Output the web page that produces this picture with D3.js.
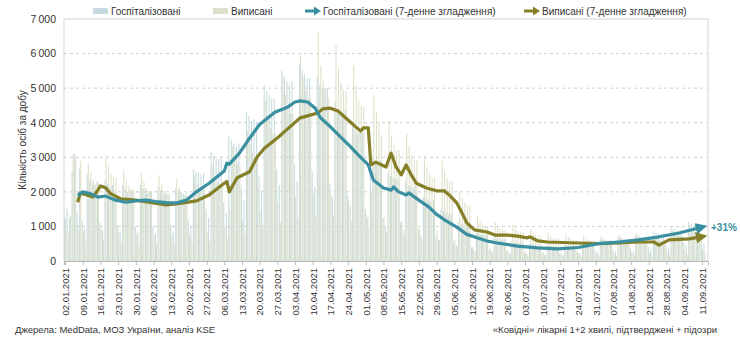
<!DOCTYPE html>
<html>
<head>
<meta charset="utf-8">
<script src="https://cdn.jsdelivr.net/npm/d3@7"></script>
<style>
  body { margin: 0; background: #fff; }
  text { font-family: "Liberation Sans", Arial, sans-serif; fill: #333; }
</style>
</head>
<body>
<svg id="chart"></svg>
<script>
// first day of the daily series
const startDate = new Date(2021, 0, 2);

// daily hospitalised (one row per week, Sat..Fri)
const hospDaily = [
  1300, 1500, 1250, 2600, 3100, 1400, 2700,
  1150, 950, 2500, 2350, 2250, 2200, 2300,
  1100, 900, 2350, 2250, 2150, 2200, 2000,
  1050, 850, 2200, 2100, 2000, 2050, 2000,
  1000, 850, 2200, 2100, 2050, 1950, 2000,
  1000, 800, 2150, 2050, 1950, 1950, 1900,
  1050, 850, 2100, 2050, 2000, 1950, 1950,
  1200, 1000, 2650, 2600, 2550, 2500, 2550,
  1500, 1250, 3150, 3050, 2950, 2950, 3000,
  1700, 1400, 3600, 3500, 3400, 3300, 3400,
  2100, 1750, 4300, 4200, 4050, 4100, 4000,
  2450, 2050, 5100, 4900, 4800, 4700, 4700,
  2650, 2200, 5500, 5300, 5200, 5100, 5200,
  2800, 2300, 5700, 5500, 5400, 5300, 5300,
  2600, 2150, 5300, 5100, 5000, 4950, 5000,
  2250, 1850, 4600, 4400, 4250, 4200, 4350,
  1900, 1600, 4000, 3800, 3700, 3700, 3700,
  1500, 1250, 3100, 3000, 2900, 2850, 2900,
  1250, 1000, 2550, 2450, 2400, 2350, 2350,
  1100, 900, 2300, 2200, 2150, 2100, 2200,
  900, 750, 1850, 1800, 1750, 1700, 1750,
  720, 600, 1500, 1450, 1400, 1350, 1380,
  540, 450, 1120, 1080, 1040, 1020, 1050,
  400, 330, 820, 790, 760, 750, 770,
  320, 270, 680, 650, 620, 610, 630,
  270, 230, 560, 540, 520, 510, 520,
  230, 200, 490, 470, 450, 440, 450,
  220, 180, 450, 430, 410, 410, 420,
  220, 180, 450, 430, 410, 410, 420,
  250, 210, 520, 500, 490, 480, 490,
  300, 250, 640, 610, 590, 580, 600,
  330, 280, 690, 660, 630, 630, 640,
  360, 300, 750, 720, 690, 680, 700,
  410, 340, 850, 820, 780, 770, 790,
  470, 390, 980, 940, 900, 880, 900,
  540, 450, 1130, 1080, 1040, 1020, 1040,
  590, 500
];

// daily discharged
const dischDaily = [
  1200, 800, 1300, 3100, 3000, 900, 2900,
  880, 590, 2830, 2540, 2340, 2240, 2250,
  950, 630, 3050, 2730, 2520, 2420, 2400,
  810, 540, 2610, 2340, 2160, 2070, 2080,
  790, 530, 2550, 2290, 2110, 2020, 2030,
  770, 510, 2470, 2210, 2040, 1960, 1950,
  740, 490, 2380, 2130, 1970, 1890, 1880,
  770, 510, 2470, 2210, 2040, 1960, 1950,
  860, 570, 2760, 2470, 2280, 2190, 2170,
  990, 660, 1500, 3300, 3000, 2800, 2750,
  1170, 780, 3770, 3380, 3120, 2990, 2990,
  1440, 960, 4640, 4160, 3840, 3680, 3680,
  1670, 1110, 5370, 4810, 4440, 4260, 4240,
  1850, 1230, 5950, 5330, 4920, 4720, 4700,
  1960, 1300, 6600, 5650, 5220, 5000, 4720,
  1940, 1290, 6240, 5590, 5160, 4950, 4930,
  1760, 1170, 5660, 5070, 4680, 4490, 4470,
  1350, 900, 2000, 4800, 4300, 4000, 3650,
  1260, 840, 4060, 3640, 3360, 3220, 3220,
  1150, 770, 3700, 3320, 3060, 2930, 2920,
  950, 630, 3050, 2730, 2520, 2420, 2400,
  900, 600, 2900, 2600, 2400, 2300, 2300,
  630, 420, 2030, 1820, 1680, 1610, 1610,
  400, 260, 1280, 1140, 1060, 1010, 1010,
  350, 230, 1130, 1010, 940, 900, 900,
  320, 220, 1040, 940, 860, 830, 830,
  290, 190, 930, 830, 770, 740, 730,
  250, 170, 810, 730, 670, 640, 650,
  240, 160, 770, 690, 640, 610, 600,
  230, 150, 740, 660, 610, 590, 590,
  230, 150, 740, 660, 610, 590, 590,
  230, 160, 750, 680, 620, 600, 600,
  250, 170, 800, 720, 660, 630, 620,
  230, 150, 720, 650, 600, 580, 570,
  270, 180, 880, 790, 730, 700, 720,
  290, 200, 940, 850, 780, 750, 740,
  320, 210
];

// 7-day smoothed lines: day offset from 02.01.2021 and value
const hospAvgDays = [5, 7, 10, 13, 16, 20, 24, 28, 32, 36, 40, 44, 48, 52, 57, 63, 64, 65, 69, 73, 77, 83, 88, 91, 93, 96, 99, 101, 105, 109, 113, 116, 120, 122, 126, 129, 130, 132, 135, 136, 140, 144, 147, 150, 155, 159, 163, 167, 171, 179, 187, 195, 203, 211, 219, 227, 235, 243, 251];
const hospAvgValues = [1900, 2000, 1950, 1850, 1880, 1760, 1700, 1740, 1760, 1720, 1690, 1680, 1760, 2000, 2250, 2600, 2830, 2800, 3120, 3550, 3950, 4300, 4450, 4600, 4630, 4600, 4420, 4150, 3880, 3590, 3300, 3070, 2780, 2340, 2110, 2050, 2140, 2000, 1910, 1970, 1760, 1560, 1350, 1200, 980, 770, 670, 580, 520, 430, 380, 350, 390, 500, 550, 610, 700, 810, 960];

const dischAvgDays = [5, 6, 9, 11, 13, 14, 16, 18, 22, 28, 40, 44, 52, 57, 63, 64, 65, 68, 73, 76, 79, 84, 89, 93, 97, 100, 102, 105, 108, 112, 115, 117, 118, 120, 121, 123, 127, 129, 131, 133, 135, 137, 139, 143, 147, 150, 152, 155, 157, 159, 162, 167, 170, 175, 179, 183, 184, 187, 191, 203, 211, 219, 227, 233, 235, 239, 247, 251];
const dischAvgValues = [1700, 1960, 1900, 1850, 2050, 2170, 2120, 1950, 1800, 1760, 1620, 1650, 1740, 1910, 2250, 2300, 2000, 2400, 2580, 3010, 3270, 3560, 3880, 4140, 4220, 4280, 4400, 4420, 4340, 4080, 3880, 3760, 3850, 3850, 2780, 2860, 2720, 3120, 2720, 2490, 2780, 2490, 2250, 2110, 2030, 2030, 1910, 1680, 1400, 1100, 900, 840, 750, 750, 720, 670, 700, 580, 550, 520, 500, 520, 550, 550, 460, 610, 640, 690];

const yTicks = [0, 1000, 2000, 3000, 4000, 5000, 6000, 7000];

const width = 740;
const height = 339;
const margin = { top: 19, right: 32, bottom: 78, left: 64 };

const svg = d3.select("#chart").attr("width", width).attr("height", height);

const dayToDate = (k) => d3.timeDay.offset(startDate, k);

// half-day padding on both ends
const x = d3
  .scaleTime()
  .domain([d3.timeHour.offset(startDate, -10), d3.timeHour.offset(dayToDate(254), 10)])
  .range([margin.left, width - margin.right]);

const y = d3
  .scaleLinear()
  .domain([0, 7000])
  .range([height - margin.bottom, margin.top]);

const colHospBar = "#c7dadd";
const colDischBar = "#dde0c8";
const colHosp = "#3a8fa1";
const colDisch = "#857f27";

// frame
svg
  .append("rect")
  .attr("x", margin.left)
  .attr("y", margin.top)
  .attr("width", width - margin.left - margin.right)
  .attr("height", height - margin.top - margin.bottom)
  .attr("fill", "none")
  .attr("stroke", "#d4d4d4");

// grid
svg
  .append("g")
  .selectAll("line")
  .data(yTicks.filter((d) => d > 0 && d < 7000))
  .join("line")
  .attr("x1", margin.left)
  .attr("x2", width - margin.right)
  .attr("y1", (d) => y(d))
  .attr("y2", (d) => y(d))
  .attr("stroke", "#cfcfcf")
  .attr("stroke-dasharray", "3,3");

// bars
const step = x(dayToDate(1)) - x(dayToDate(0));
const barW = step * 0.42;

svg
  .append("g")
  .selectAll("rect")
  .data(hospDaily)
  .join("rect")
  .attr("x", (d, i) => x(dayToDate(i)) - barW)
  .attr("y", (d) => y(d))
  .attr("width", barW)
  .attr("height", (d) => y(0) - y(d))
  .attr("fill", colHospBar);

svg
  .append("g")
  .selectAll("rect")
  .data(dischDaily)
  .join("rect")
  .attr("x", (d, i) => x(dayToDate(i)))
  .attr("y", (d) => y(d))
  .attr("width", barW)
  .attr("height", (d) => y(0) - y(d))
  .attr("fill", colDischBar);

// arrow markers
const defs = svg.append("defs");
[["arrH", colHosp], ["arrD", colDisch]].forEach(([id, c]) => {
  defs
    .append("marker")
    .attr("id", id)
    .attr("viewBox", "0 0 10 10")
    .attr("refX", 3)
    .attr("refY", 5)
    .attr("markerWidth", 3.6)
    .attr("markerHeight", 3.6)
    .attr("orient", "auto")
    .append("path")
    .attr("d", "M0,0 L10,5 L0,10 Z")
    .attr("fill", c);
});

const line = d3
  .line()
  .x((d) => x(dayToDate(d[0])))
  .y((d) => y(d[1]));

svg
  .append("path")
  .datum(dischAvgDays.map((k, i) => [k, dischAvgValues[i]]))
  .attr("d", line)
  .attr("fill", "none")
  .attr("stroke", colDisch)
  .attr("stroke-width", 3.2)
  .attr("stroke-linejoin", "round")
  .attr("marker-end", "url(#arrD)");

svg
  .append("path")
  .datum(hospAvgDays.map((k, i) => [k, hospAvgValues[i]]))
  .attr("d", line)
  .attr("fill", "none")
  .attr("stroke", colHosp)
  .attr("stroke-width", 3.2)
  .attr("stroke-linejoin", "round")
  .attr("marker-end", "url(#arrH)");

// +31% label
svg
  .append("text")
  .attr("x", 711)
  .attr("y", y(960) + 3)
  .style("font-size", "10px")
  .style("font-weight", "bold")
  .style("fill", colHosp)
  .text("+31%");

// y axis
const yAxis = d3
  .axisLeft(y)
  .tickValues(yTicks)
  .tickSize(0)
  .tickPadding(8)
  .tickFormat((d) => d3.format(",")(d).replace(",", "\u2009"));

svg
  .append("g")
  .attr("transform", `translate(${margin.left},0)`)
  .call(yAxis)
  .call((g) => g.select(".domain").remove())
  .selectAll("text")
  .style("font-size", "10.5px")
  .style("font-family", "Liberation Sans, Arial, sans-serif")
  .style("fill", "#333");

svg
  .append("text")
  .attr("transform", `translate(26,${(margin.top + height - margin.bottom) / 2}) rotate(-90)`)
  .attr("text-anchor", "middle")
  .style("font-size", "10px")
  .text("Кількість осіб за добу");

// x axis
const xTicks = d3.range(0, 253, 7).map(dayToDate);
const xAxis = d3
  .axisBottom(x)
  .tickValues(xTicks)
  .tickSize(4)
  .tickFormat(d3.timeFormat("%d.%m.%Y"));

const gx = svg
  .append("g")
  .attr("transform", `translate(0,${height - margin.bottom})`)
  .call(xAxis);
gx.select(".domain").attr("stroke", "#bbb");
gx.selectAll(".tick line").attr("stroke", "#bbb");
gx.selectAll("text")
  .attr("transform", "rotate(-90)")
  .attr("text-anchor", "end")
  .attr("x", -7)
  .attr("y", 0)
  .attr("dy", "0.35em")
  .style("font-size", "9.5px")
  .style("font-family", "Liberation Sans, Arial, sans-serif")
  .style("fill", "#333");

// legend
const legend = svg.append("g").attr("transform", "translate(0,11)");
const legendItems = [
  { x: 93, type: "bar", color: colHospBar, label: "Госпіталізовані" },
  { x: 213, type: "bar", color: colDischBar, label: "Виписані" },
  { x: 305, type: "arrow", color: colHosp, label: "Госпіталізовані (7-денне згладження)" },
  { x: 524, type: "arrow", color: colDisch, label: "Виписані (7-денне згладження)" },
];
legendItems.forEach((it) => {
  if (it.type === "bar") {
    legend
      .append("rect")
      .attr("x", it.x)
      .attr("y", -3)
      .attr("width", 15)
      .attr("height", 6)
      .attr("fill", it.color);
  } else {
    legend
      .append("line")
      .attr("x1", it.x)
      .attr("x2", it.x + 10)
      .attr("y1", 0)
      .attr("y2", 0)
      .attr("stroke", it.color)
      .attr("stroke-width", 3);
    legend
      .append("path")
      .attr("d", `M${it.x + 9},-4.5 L${it.x + 16},0 L${it.x + 9},4.5 Z`)
      .attr("fill", it.color);
  }
  legend
    .append("text")
    .attr("x", it.x + 18)
    .attr("y", 3.5)
    .style("font-size", "10px")
    .text(it.label);
});

// footer
svg
  .append("text")
  .attr("x", 15)
  .attr("y", 333)
  .style("font-size", "9.5px")
  .text("Джерела: MedData, МОЗ України, аналіз KSE");

svg
  .append("text")
  .attr("x", 717)
  .attr("y", 333)
  .attr("text-anchor", "end")
  .style("font-size", "9.5px")
  .text("«Ковідні» лікарні 1+2 хвилі, підтверджені + підозри");
</script>
</body>
</html>
